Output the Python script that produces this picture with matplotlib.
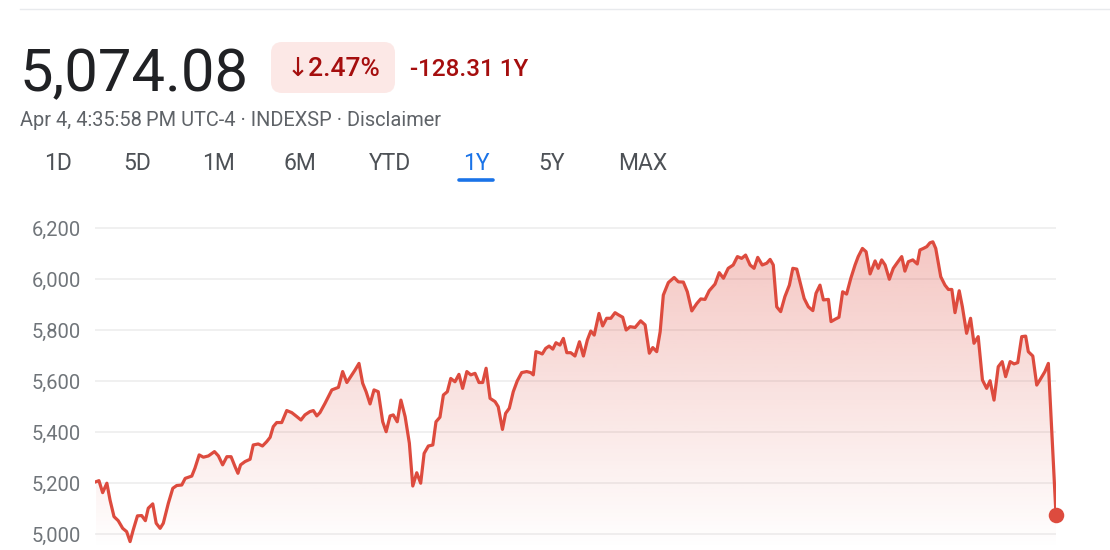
import numpy as np
import matplotlib.pyplot as plt
from matplotlib.patches import FancyBboxPatch
from matplotlib.colors import to_rgb

plt.rcParams['font.family'] = ['Roboto', 'DejaVu Sans']

# days since start of the 1Y window, and index level
days = [0.0, 1.1, 2.5, 4.1, 5.3, 6.8, 8.4, 10.1, 11.6, 12.9, 14.1, 15.7, 17.3, 18.7,
        19.8, 21.5, 22.8, 24.3, 25.5, 27.4, 29.1, 30.6, 32.5, 33.8, 36.3, 37.5, 39.1,
        40.7, 42.6, 44.9, 46.4, 48.0, 49.6, 51.2, 52.7, 53.8, 54.8, 56.5, 58.4, 59.6,
        61.5, 63.1, 64.7, 66.0, 67.2, 68.5, 70.4, 72.3, 74.2, 75.8, 77.7, 79.2, 81.1,
        82.4, 83.7, 84.9, 86.8, 89.4, 91.9, 93.5, 95.1, 97.0, 98.2, 99.7, 101.1, 102.4,
        103.9, 105.4, 107.0, 108.7, 110.0, 111.5, 112.7, 114.2, 115.6, 117.2, 118.8,
        120.1, 121.6, 123.1, 124.4, 126.0, 127.7, 128.9, 130.4, 131.7, 133.2, 134.5,
        136.1, 137.6, 139.0, 140.6, 142.1, 143.7, 145.2, 146.6, 147.9, 149.4, 151.3,
        152.5, 154.1, 155.3, 156.7, 158.2, 159.7, 161.4, 163.3, 164.8, 165.8, 166.8,
        168.1, 169.2, 170.5, 171.8, 173.2, 174.4, 175.9, 177.2, 178.5, 180.0, 181.6,
        183.3, 184.8, 186.3, 187.6, 188.9, 190.7, 192.1, 193.6, 195.2, 196.8, 198.0,
        199.7, 201.0, 202.5, 204.4, 206.5, 208.2, 209.8, 211.1, 212.6, 213.9, 215.1,
        217.0, 219.2, 220.8, 222.7, 224.2, 225.9, 227.8, 229.3, 230.9, 232.5, 234.7,
        236.3, 237.9, 239.7, 241.6, 243.2, 244.8, 246.3, 248.0, 249.5, 250.9, 252.6,
        254.3, 255.6, 256.8, 258.1, 259.6, 261.2, 262.9, 264.2, 265.7, 266.9, 268.5,
        270.1, 271.8, 273.0, 274.5, 275.8, 277.7, 278.7, 280.2, 281.7, 283.1, 284.6,
        286.2, 287.8, 289.0, 290.6, 292.0, 293.5, 295.4, 296.6, 297.9, 299.2, 300.8,
        302.3, 303.8, 305.5, 306.7, 308.0, 309.7, 311.4, 312.4, 313.7, 315.0, 316.2,
        317.3, 318.4, 319.4, 320.3, 321.9, 323.2, 324.5, 325.7, 327.3, 328.5, 330.1,
        331.6, 332.9, 334.5, 336.1, 337.7, 339.0, 340.5, 342.1, 343.6, 344.9, 346.6,
        348.1, 349.5, 351.0, 352.5, 353.5, 355.2, 356.7, 357.9, 359.8, 361.1, 364.0]
close = [5205, 5209, 5162, 5199, 5133, 5068, 5052, 5022, 5009, 4970, 5016, 5071, 5072, 5052,
         5101, 5118, 5042, 5022, 5042, 5120, 5179, 5190, 5192, 5218, 5227, 5258, 5310,
         5301, 5306, 5323, 5306, 5271, 5303, 5303, 5264, 5238, 5271, 5284, 5293, 5349,
         5353, 5345, 5362, 5379, 5421, 5437, 5437, 5484, 5476, 5463, 5447, 5467, 5480,
         5484, 5463, 5476, 5512, 5565, 5575, 5637, 5594, 5624, 5643, 5669, 5591, 5558,
         5510, 5565, 5558, 5440, 5401, 5463, 5467, 5440, 5525, 5460, 5356,
         5188, 5240, 5199, 5316, 5345, 5349, 5440, 5458, 5545, 5558, 5610,
         5597, 5626, 5571, 5637, 5624, 5630, 5594, 5594, 5650, 5532, 5519,
         5499, 5410, 5473, 5493, 5558, 5600, 5633, 5637, 5633, 5624, 5715,
         5711, 5706, 5728, 5737, 5725, 5750, 5741, 5767, 5711, 5711, 5698,
         5754, 5698, 5761, 5796, 5780, 5865, 5816, 5846, 5846, 5868, 5860,
         5850, 5800, 5813, 5810, 5836, 5820, 5709, 5731, 5715, 5793, 5937,
         5986, 6006, 5989, 5988, 5950, 5875, 5904, 5922, 5920, 5954, 5980,
         6025, 6003, 6042, 6055, 6088, 6081, 6094, 6055, 6042, 6085, 6055,
         6062, 6077, 6055, 5891, 5872, 5931, 5976, 6042, 6039, 5989, 5924,
         5891, 5876, 5944, 5976, 5918, 5920, 5833, 5842, 5850, 5950, 5941,
         6003, 6055, 6088, 6120, 6107, 6020, 6071, 6042, 6075, 6055, 5999,
         6042, 6064, 6088, 6031, 6068, 6075, 6059, 6114, 6120, 6127, 6142,
         6146, 6120, 6061, 6009, 5976, 5959, 5959, 5868, 5954, 5891, 5787,
         5846, 5748, 5774, 5604, 5571, 5601, 5525, 5656, 5676, 5617, 5676,
         5667, 5672, 5774, 5776, 5715, 5698, 5584, 5604, 5637, 5669, 5074.08]

y_ticks = [5000, 5200, 5400, 5600, 5800, 6000, 6200]
tabs = ["1D", "5D", "1M", "6M", "YTD", "1Y", "5Y", "MAX"]
active_tab = "1Y"

price_txt = "5,074.08"
pct_txt = "\u21932.47%"
chg_txt = "-128.31 1Y"
sub_txt = "Apr 4, 4:35:58\u2009PM UTC-4 \u00b7 INDEXSP \u00b7 Disclaimer"

RED = '#dd4b3e'
DARK_RED = '#a50e0e'

W, H = 1110, 550
fig = plt.figure(figsize=(W / 100, H / 100), dpi=100)

# overlay in pixel units for the header
bg = fig.add_axes([0, 0, 1, 1])
bg.set_xlim(0, W)
bg.set_ylim(H, 0)
bg.axis('off')

bg.plot([20, W], [9, 9], color='#e8eaed', lw=1)
bg.text(20, 91, price_txt, fontsize=43, color='#202124', va='baseline')
bg.add_patch(FancyBboxPatch((271, 42), 124, 51, boxstyle="round,pad=0,rounding_size=11",
                            fc='#fce8e6', ec='none'))
bg.text(334, 76, pct_txt, fontsize=19, color=DARK_RED, ha='center', va='baseline',
        weight='medium')
bg.text(410, 76, chg_txt, fontsize=17.5, color=DARK_RED, va='baseline', weight='medium')
bg.text(20, 126, sub_txt, fontsize=14.4, color='#5f6368', va='baseline')

tab_x = [58, 137, 218, 300, 390, 476, 552, 643]
for tx, t in zip(tab_x, tabs):
    c = '#1a73e8' if t == active_tab else '#4d5156'
    bg.text(tx, 170, t, fontsize=16.5, color=c, ha='center', va='baseline')
    if t == active_tab:
        bg.plot([tx - 17, tx + 17], [180, 180], color='#1a73e8', lw=2.6,
                solid_capstyle='round')

# chart area
left, right, top, bottom = 95, 1056, 200, 550
ax = fig.add_axes([left / W, 1 - bottom / H, (right - left) / W, (bottom - top) / H])
ymin, ymax = 4937, 6310
ax.set_xlim(-0.4, 364)
ax.set_ylim(ymin, ymax)
for s in ax.spines.values():
    s.set_visible(False)
ax.set_xticks([])
ax.set_yticks(y_ticks)
ax.set_yticklabels([f"{v:,}" for v in y_ticks])
ax.tick_params(axis='y', length=0, pad=10, labelsize=14.5, labelcolor='#70757a')
for v in y_ticks:
    ax.axhline(v, color='#ececec', lw=1.1, zorder=0)

# gradient fill under the line
poly = ax.fill_between(days, close, ymin, color='none', lw=0)
rgb = to_rgb('#dc4437')
top_v = max(close)
grad = np.zeros((256, 1, 4))
grad[:, 0, :3] = rgb
grad[:, 0, 3] = np.linspace(0.30, 0.0, 256)
img = ax.imshow(grad, extent=[days[0], days[-1], ymin, top_v], aspect='auto',
                origin='upper', zorder=1)
img.set_clip_path(poly.get_paths()[0], transform=ax.transData)

ax.plot(days, close, color=RED, lw=2.3, solid_joinstyle='round', zorder=3)
ax.scatter([days[-1]], [close[-1]], s=125, color=RED, zorder=4, clip_on=False, lw=0)

fig.savefig('out.png', dpi=100)
